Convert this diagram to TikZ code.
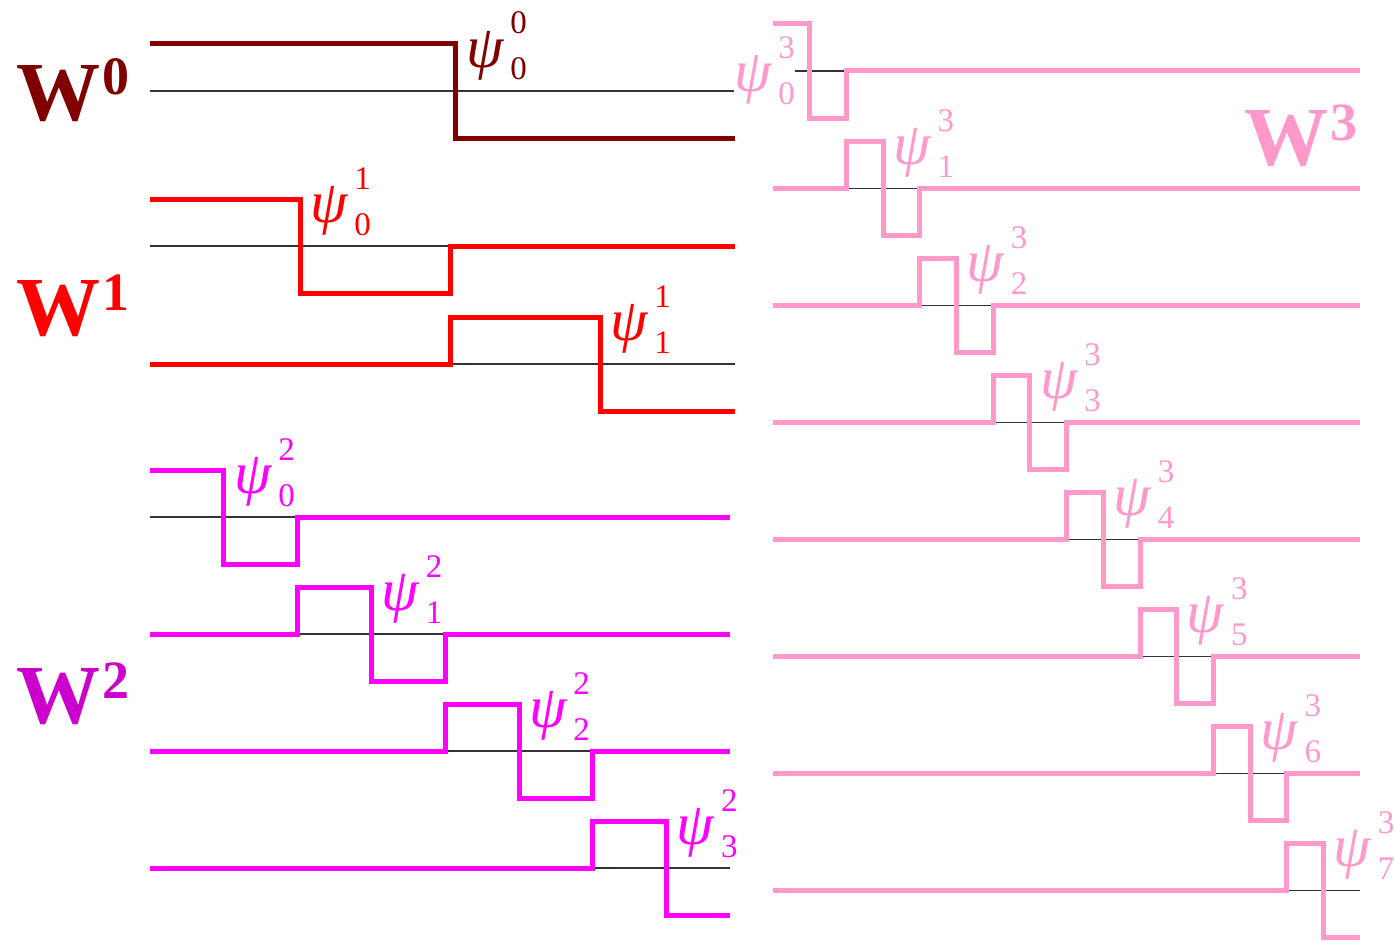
\documentclass[tikz,border=0pt]{standalone}
\usepackage{fontspec}
\setmainfont{Liberation Serif}
\definecolor{wzero}{RGB}{128,0,0}
\definecolor{wone}{RGB}{255,0,0}
\definecolor{wtwo}{RGB}{255,0,255}
\definecolor{wtwolabel}{RGB}{204,0,204}
\definecolor{wthree}{RGB}{255,153,204}
\newcommand{\psilab}[2]{{\fontsize{60}{60}\selectfont\itshape ψ}\hspace{7pt}\rlap{\raisebox{33pt}{\fontsize{33}{33}\selectfont #1}}\raisebox{-13pt}{\fontsize{33}{33}\selectfont #2}}
\newcommand{\wlab}[1]{{\fontsize{84}{84}\selectfont\bfseries W}\hspace{2pt}\raisebox{25pt}{\fontsize{54}{54}\selectfont\bfseries #1}}
\begin{document}
\begin{tikzpicture}[x=1pt,y=-1pt,
	axisline/.style={line width=1.2pt,black!80},
	wave/.style={line width=5pt},
	psilabel/.style={inner sep=0pt,anchor=base west},
	wlabel/.style={inner sep=0pt,anchor=base west}]
\useasboundingbox (0,0) rectangle (1395,942);
%%% Level 0
\draw[axisline] (150,91) -- (735,91);
\draw[wave,wzero] (150,44) -- (455,44) -- (455,138) -- (735,138);
\node[psilabel,text=wzero] (psi-0-0) at (466,67) {\psilab{0}{0}};
%%% Level 1
\foreach \k in {0,1}
{
	\pgfmathsetmacro{\ya}{246+118*\k};
	\pgfmathsetmacro{\xa}{150+300*\k};
	\pgfmathsetmacro{\xb}{\xa+150};
	\pgfmathsetmacro{\xc}{\xa+300};
	\draw[axisline] (150,\ya) -- (735,\ya);
	\ifnum\k=0
		\draw[wave,wone] (150,\ya-47) -- (\xb,\ya-47) -- (\xb,\ya+47) -- (\xc,\ya+47) -- (\xc,\ya) -- (735,\ya);
	\else
		\draw[wave,wone] (150,\ya) -- (\xa,\ya) -- (\xa,\ya-47) -- (\xb,\ya-47) -- (\xb,\ya+47) -- (735,\ya+47);
	\fi
	\node[psilabel,text=wone] (psi-1-\k) at (\xb+10,\ya-24) {\psilab{1}{\k}};
}
%%% Level 2
\foreach \k in {0,...,3}
{
	\pgfmathsetmacro{\ya}{517+117*\k};
	\pgfmathsetmacro{\xa}{150+147.6*\k};
	\pgfmathsetmacro{\xb}{\xa+73.8};
	\pgfmathsetmacro{\xc}{\xa+147.6};
	\draw[axisline] (150,\ya) -- (730,\ya);
	\ifnum\k=0
		\draw[wave,wtwo] (150,\ya-47) -- (\xb,\ya-47) -- (\xb,\ya+47) -- (\xc,\ya+47) -- (\xc,\ya) -- (730,\ya);
	\else\ifnum\k=3
		\draw[wave,wtwo] (150,\ya) -- (\xa,\ya) -- (\xa,\ya-47) -- (\xb,\ya-47) -- (\xb,\ya+47) -- (730,\ya+47);
	\else
		\draw[wave,wtwo] (150,\ya) -- (\xa,\ya) -- (\xa,\ya-47) -- (\xb,\ya-47) -- (\xb,\ya+47) -- (\xc,\ya+47) -- (\xc,\ya) -- (730,\ya);
	\fi\fi
	\node[psilabel,text=wtwo] (psi-2-\k) at (\xb+10,\ya-24) {\psilab{2}{\k}};
}
%%% Level 3
\foreach \k in {0,...,7}
{
	\pgfmathsetmacro{\ya}{71+117.1*\k};
	\pgfmathsetmacro{\xa}{773+73.4*\k};
	\pgfmathsetmacro{\xb}{\xa+36.7};
	\pgfmathsetmacro{\xc}{\xa+73.4};
	\draw[axisline] (773,\ya) -- (1360,\ya);
	\ifnum\k=0
		\draw[wave,wthree] (773,\ya-47) -- (\xb,\ya-47) -- (\xb,\ya+47) -- (\xc,\ya+47) -- (\xc,\ya) -- (1360,\ya);
		\node[psilabel,text=wthree,fill=white] (psi-3-\k) at (734,\ya+21) {\psilab{3}{\k}};
	\else\ifnum\k=7
		\draw[wave,wthree] (773,\ya) -- (\xa,\ya) -- (\xa,\ya-47) -- (\xb,\ya-47) -- (\xb,\ya+47) -- (1360,\ya+47);
		\node[psilabel,text=wthree] (psi-3-\k) at (\xb+10,\ya-24) {\psilab{3}{\k}};
	\else
		\draw[wave,wthree] (773,\ya) -- (\xa,\ya) -- (\xa,\ya-47) -- (\xb,\ya-47) -- (\xb,\ya+47) -- (\xc,\ya+47) -- (\xc,\ya) -- (1360,\ya);
		\node[psilabel,text=wthree] (psi-3-\k) at (\xb+10,\ya-24) {\psilab{3}{\k}};
	\fi\fi
}
%%% Level names
\node[wlabel,text=wzero] (wlab-0) at (16,120) {\wlab{0}};
\node[wlabel,text=wone] (wlab-1) at (16,335) {\wlab{1}};
\node[wlabel,text=wtwolabel] (wlab-2) at (16,723) {\wlab{2}};
\node[wlabel,anchor=base east,text=wthree] (wlab-3) at (1358,165) {\wlab{3}};
\end{tikzpicture}
\end{document}
